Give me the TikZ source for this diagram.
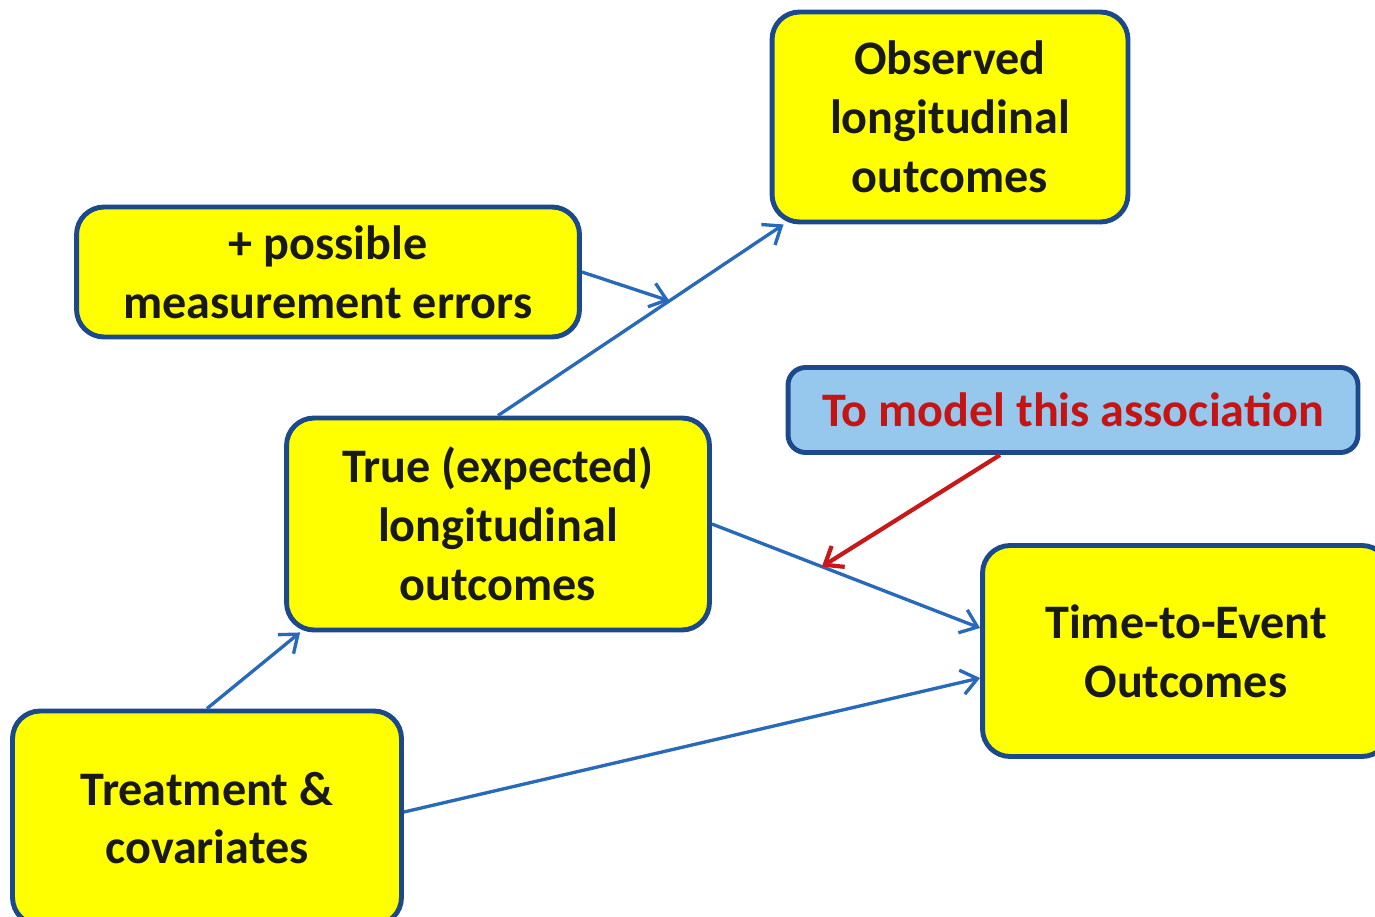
\documentclass[tikz,border=0pt]{standalone}
\usepackage{fontspec}
\setmainfont{Carlito}
\usetikzlibrary{arrows.meta}
\definecolor{boxyellow}{RGB}{255,255,0}
\definecolor{edgeblue}{RGB}{28,72,140}
\definecolor{arrowblue}{RGB}{40,105,185}
\definecolor{noteblue}{RGB}{150,200,238}
\definecolor{notered}{RGB}{196,20,20}
\definecolor{arrowred}{RGB}{200,25,25}
\definecolor{darktext}{RGB}{25,25,25}
\tikzstyle{stage}=[draw=edgeblue, line width=2.8pt, fill=boxyellow, rounded corners=0.55cm, align=center, text=darktext, font=\bfseries\fontsize{27.4}{33.5}\selectfont]
\tikzstyle{note}=[stage, fill=noteblue, text=notered, rounded corners=0.35cm]
\tikzstyle{flow}=[draw=arrowblue, line width=1.9pt, -{Straight Barb[length=9pt,width=14pt]}]

\begin{document}
\begin{tikzpicture}[x=0.02cm, y=-0.02cm]
    \useasboundingbox (0,0) rectangle (1375,916);
    \node[stage, minimum width=7.12cm, minimum height=4.2cm] (obs) at (950,117) {Observed\\longitudinal\\outcomes};
    \node[stage, minimum width=10.06cm, minimum height=2.6cm] (err) at (328,272) {+ possible\\measurement errors};
    \node[stage, minimum width=8.46cm, minimum height=4.24cm] (true) at (498,524) {True (expected)\\longitudinal\\outcomes};
    \node[note, minimum width=11.4cm, minimum height=1.7cm] (assoc) at (1073,410) {To model this association};
    \node[stage, minimum width=8.14cm, minimum height=4.22cm] (time) at (1186,651) {Time-to-Event\\Outcomes};
    \node[stage, minimum width=7.78cm, minimum height=4.28cm] (treat) at (207,818) {Treatment \&\\covariates};
    % connectors
    \draw[flow] (true.north) -- coordinate[pos=0.6] (m1) ([xshift=0.28cm]obs.south west);
    \draw[flow] (err.east) -- (m1);
    \draw[flow] (true.east) -- coordinate[pos=0.41] (m2) ([yshift=0.46cm]time.west);
    \draw[flow, draw=arrowred, line width=2.4pt] ([xshift=-1.46cm]assoc.south) -- (m2);
    \draw[flow] (treat.north) -- ([xshift=0.32cm]true.south west);
    \draw[flow] ([yshift=0.12cm]treat.east) -- ([yshift=-0.54cm]time.west);
\end{tikzpicture}
\end{document}
